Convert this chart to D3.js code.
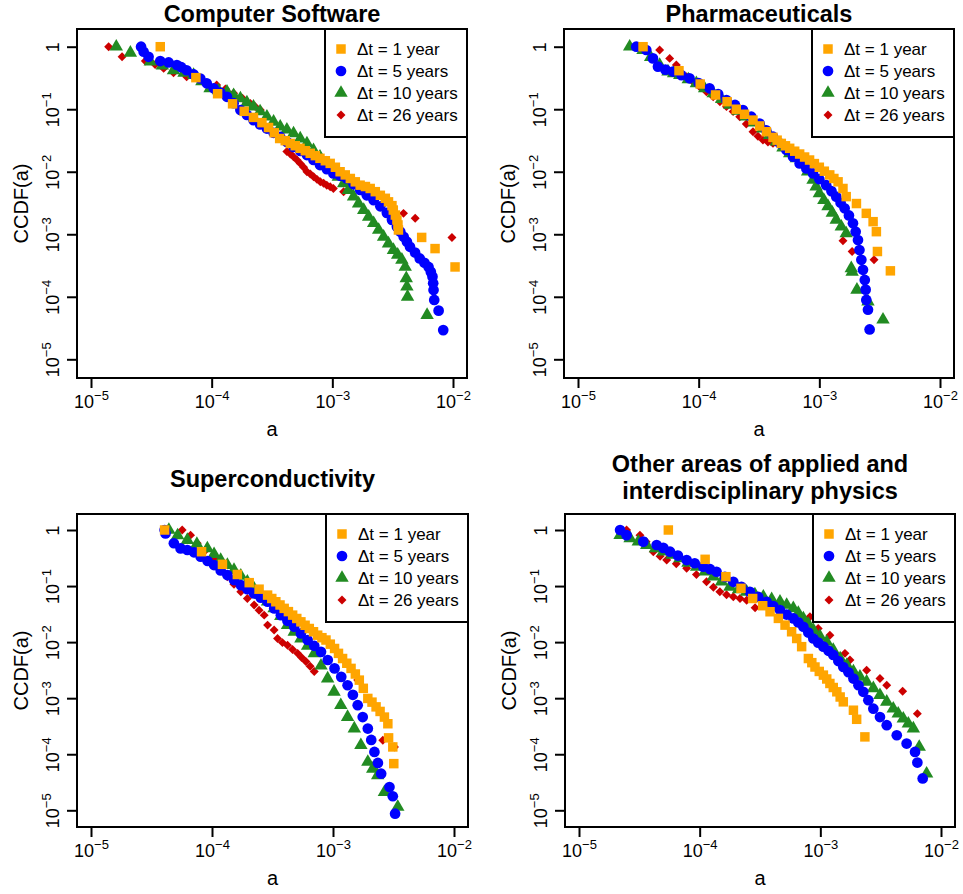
<!DOCTYPE html>
<html>
<head>
<meta charset="utf-8">
<script src="https://cdn.jsdelivr.net/npm/d3@7"></script>
<style>
  body { margin: 0; background: #fff; }
  svg { font-family: "Liberation Sans", Arial, Helvetica, sans-serif; }
</style>
</head>
<body>
<svg id="chart" width="963" height="894"></svg>
<script>
// Values: [a, CCDF(a)] pairs.
var seriesLabels = ["\u0394t = 1 year", "\u0394t = 5 years", "\u0394t = 10 years", "\u0394t = 26 years"];
var xTicks = [1e-5, 1e-4, 1e-3, 1e-2];
var yTicks = [1, 1e-1, 1e-2, 1e-3, 1e-4, 1e-5];

// Computer Software
var software1 = [[3.75e-5,1],[7.4e-5,0.32],[1.12e-4,0.177],[1.49e-4,0.122],[1.86e-4,0.0925],[2.22e-4,0.074],[2.61e-4,0.061],[2.96e-4,0.051],[3.3e-4,0.042],[3.66e-4,0.034],[4.07e-4,0.0314],[4.48e-4,0.0284],[4.93e-4,0.0261],[5.4e-4,0.0237],[5.97e-4,0.0217],[6.56e-4,0.0197],[7.23e-4,0.0181],[7.9e-4,0.0164],[8.75e-4,0.015],[9.6e-4,0.0136],[1.06e-3,0.0118],[1.16e-3,0.01],[1.28e-3,0.0089],[1.41e-3,0.0078],[1.55e-3,0.0069],[1.7e-3,0.0061],[1.88e-3,0.0058],[2.06e-3,0.0054],[2.27e-3,0.0048],[2.5e-3,0.0042],[2.75e-3,0.00376],[2.92e-3,0.0033],[3.12e-3,0.00287],[3.2e-3,0.00244],[3.33e-3,0.00203],[3.43e-3,0.00169],[3.5e-3,0.00141],[3.53e-3,0.00117],[5.5e-3,8.9e-4],[7.1e-3,5.9e-4],[1.04e-2,3.0e-4]];
var software5 = [[2.6e-5,1.0],[2.73e-5,0.83],[3.0e-5,0.69],[3.75e-5,0.59],[4.4e-5,0.56],[5.15e-5,0.51],[5.6e-5,0.47],[6.2e-5,0.42],[7.1e-5,0.36],[8.05e-5,0.31],[9.1e-5,0.26],[1.04e-4,0.216],[1.18e-4,0.185],[1.34e-4,0.158],[1.52e-4,0.125],[1.73e-4,0.097],[1.96e-4,0.081],[2.22e-4,0.067],[2.52e-4,0.057],[2.87e-4,0.049],[3.26e-4,0.042],[3.7e-4,0.036],[4.2e-4,0.030],[4.77e-4,0.025],[5.42e-4,0.0215],[6.16e-4,0.0185],[6.98e-4,0.0154],[7.9e-4,0.0128],[9.0e-4,0.011],[1.02e-3,0.0094],[1.16e-3,0.0086],[1.32e-3,0.0078],[1.5e-3,0.0063],[1.7e-3,0.0051],[1.93e-3,0.0042],[2.2e-3,0.0035],[2.5e-3,0.0028],[2.83e-3,0.0022],[3.12e-3,0.0017],[3.43e-3,0.00132],[3.66e-3,1.1e-3],[3.9e-3,9.1e-4],[4.15e-3,7.6e-4],[4.4e-3,6.3e-4],[4.85e-3,5.1e-4],[5.3e-3,4.1e-4],[5.8e-3,3.5e-4],[6.27e-3,3.0e-4],[6.55e-3,2.5e-4],[6.76e-3,2.1e-4],[6.85e-3,1.65e-4],[6.9e-3,1.28e-4],[6.99e-3,8.9e-5],[7.6e-3,6.0e-5],[8.3e-3,2.93e-5]];
var software10 = [[1.62e-5,1.0],[2.12e-5,0.8],[3.1e-5,0.575],[3.9e-5,0.5],[4.83e-5,0.42],[5.9e-5,0.38],[7.08e-5,0.352],[8.3e-5,0.28],[9.7e-5,0.216],[1.14e-4,0.2],[1.34e-4,0.19],[1.52e-4,0.168],[1.73e-4,0.149],[1.96e-4,0.128],[2.22e-4,0.11],[2.52e-4,0.092],[2.87e-4,0.076],[3.26e-4,0.063],[3.7e-4,0.0525],[4.2e-4,0.047],[4.77e-4,0.041],[5.42e-4,0.034],[6.16e-4,0.0284],[6.98e-4,0.022],[7.9e-4,0.0174],[9.0e-4,0.0136],[1.02e-3,0.0106],[1.12e-3,0.0083],[1.24e-3,0.0065],[1.36e-3,0.0051],[1.5e-3,0.004],[1.65e-3,0.0031],[1.82e-3,0.00244],[2.0e-3,0.0019],[2.2e-3,0.0015],[2.42e-3,0.00117],[2.66e-3,9.1e-4],[2.92e-3,7.1e-4],[3.21e-3,5.6e-4],[3.48e-3,4.7e-4],[3.77e-3,3.9e-4],[4.02e-3,3.0e-4],[4.1e-3,1.97e-4],[4.15e-3,1.45e-4],[4.2e-3,1.0e-4],[6.1e-3,5.1e-5]];
var software26 = [[1.4e-5,1.0],[1.81e-5,0.69],[2.82e-5,0.59],[3.4e-5,0.52],[4.0e-5,0.45],[4.83e-5,0.384],[6.2e-5,0.33],[8.05e-5,0.293],[1.1e-4,0.244],[1.3e-4,0.21],[1.52e-4,0.18],[1.8e-4,0.15],[2.09e-4,0.124],[2.3e-4,0.11],[2.53e-4,0.097],[4.2e-4,0.021],[4.49e-4,0.0192],[4.77e-4,0.0174],[5.1e-4,0.0154],[5.42e-4,0.0136],[5.78e-4,0.0118],[6.16e-4,0.01],[6.57e-4,0.0092],[7.0e-4,0.0083],[7.46e-4,0.00755],[7.95e-4,0.0069],[8.47e-4,0.00653],[9.0e-4,0.0061],[9.6e-4,0.00577],[1.02e-3,0.0054],[1.24e-3,0.0048],[3.89e-3,0.00216],[4.86e-3,0.0018],[9.8e-3,8.9e-4]];

// Pharmaceuticals
var pharma1 = [[3.46e-5,1],[6.87e-5,0.413],[1.03e-4,0.253],[1.38e-4,0.169],[1.72e-4,0.132],[2.05e-4,0.1],[2.4e-4,0.083],[2.82e-4,0.067],[3.2e-4,0.054],[3.64e-4,0.0437],[4.13e-4,0.0355],[4.47e-4,0.032],[4.84e-4,0.0284],[5.24e-4,0.026],[5.68e-4,0.0237],[6.25e-4,0.0213],[6.87e-4,0.0192],[7.55e-4,0.0172],[8.3e-4,0.0154],[9.1e-4,0.0135],[1.0e-3,0.0118],[1.1e-3,0.0102],[1.22e-3,0.0089],[1.32e-3,0.0078],[1.43e-3,0.0069],[1.57e-3,0.0054],[1.67e-3,0.004],[2.03e-3,0.0031],[2.45e-3,0.00216],[2.79e-3,0.00159],[2.97e-3,0.0011],[3.03e-3,5.3e-4],[3.88e-3,2.6e-4]];
var pharma5 = [[3.04e-5,1],[3.68e-5,0.885],[4.18e-5,0.65],[4.6e-5,0.48],[5.3e-5,0.43],[6.12e-5,0.4],[7.2e-5,0.35],[8.4e-5,0.312],[1.0e-4,0.262],[1.23e-4,0.216],[1.45e-4,0.175],[1.7e-4,0.14],[2.0e-4,0.117],[2.33e-4,0.097],[2.73e-4,0.076],[3.2e-4,0.059],[3.63e-4,0.046],[4.13e-4,0.0364],[4.7e-4,0.0285],[5.33e-4,0.0223],[6.05e-4,0.0174],[6.87e-4,0.0136],[7.8e-4,0.0113],[8.87e-4,0.0094],[1.0e-3,0.0076],[1.14e-3,0.0061],[1.26e-3,0.0049],[1.38e-3,0.004],[1.5e-3,0.0032],[1.62e-3,0.0026],[1.76e-3,0.002],[1.9e-3,0.0015],[2.0e-3,1.1e-3],[2.09e-3,8.1e-4],[2.15e-3,5.6e-4],[2.23e-3,3.9e-4],[2.3e-3,2.7e-4],[2.38e-3,1.86e-4],[2.42e-3,1.3e-4],[2.45e-3,8.9e-5],[2.53e-3,6.2e-5],[2.61e-3,3.0e-5]];
var pharma10 = [[2.68e-5,1],[3.46e-5,0.885],[4.0e-5,0.68],[4.75e-5,0.51],[5.57e-5,0.4],[6.2e-5,0.375],[6.97e-5,0.352],[8.2e-5,0.3],[9.57e-5,0.26],[1.12e-4,0.215],[1.32e-4,0.18],[1.55e-4,0.145],[1.81e-4,0.117],[2.12e-4,0.094],[2.48e-4,0.076],[2.9e-4,0.061],[3.41e-4,0.049],[3.87e-4,0.0385],[4.4e-4,0.0303],[5.0e-4,0.0244],[5.68e-4,0.0197],[6.45e-4,0.0164],[7.33e-4,0.0136],[8.0e-4,0.01],[8.87e-4,0.0074],[9.4e-4,0.0058],[1.0e-3,0.0045],[1.09e-3,0.0035],[1.18e-3,0.0028],[1.28e-3,0.0022],[1.38e-3,0.0017],[1.52e-3,0.00132],[1.67e-3,0.00103],[1.84e-3,2.85e-4],[1.87e-3,2.5e-4],[2.05e-3,1.29e-4],[2.53e-3,8.4e-5],[3.37e-3,4.3e-5]];
var pharma26 = [[4.75e-5,0.885],[5.75e-5,0.65],[6.53e-5,0.51],[7.9e-5,0.33],[9.0e-5,0.275],[1.02e-4,0.229],[1.16e-4,0.19],[1.32e-4,0.158],[1.5e-4,0.132],[1.7e-4,0.11],[1.93e-4,0.092],[2.19e-4,0.076],[2.48e-4,0.058],[2.82e-4,0.0437],[3.1e-4,0.037],[3.41e-4,0.0322],[3.75e-4,0.03],[4.13e-4,0.0284],[1.57e-3,7.9e-4],[1.87e-3,5.3e-4],[2.84e-3,3.9e-4]];

// Superconductivity
var supercond1 = [[4.06e-5,1],[8.2e-5,0.41],[1.22e-4,0.244],[1.62e-4,0.161],[2.03e-4,0.115],[2.45e-4,0.088],[2.88e-4,0.069],[3.12e-4,0.06],[3.37e-4,0.0525],[3.65e-4,0.046],[3.95e-4,0.04],[4.28e-4,0.035],[4.64e-4,0.0303],[5.02e-4,0.0264],[5.43e-4,0.023],[5.88e-4,0.02],[6.37e-4,0.0175],[6.9e-4,0.0153],[7.47e-4,0.0133],[8.1e-4,0.012],[8.75e-4,0.0109],[9.5e-4,0.0092],[1.03e-3,0.0077],[1.11e-3,0.0063],[1.2e-3,0.0051],[1.3e-3,0.0042],[1.41e-3,0.0034],[1.53e-3,0.0027],[1.65e-3,0.0021],[1.78e-3,0.0015],[1.94e-3,9.9e-4],[2.1e-3,8.5e-4],[2.27e-3,7.0e-4],[2.45e-3,5.8e-4],[2.66e-3,4.6e-4],[2.84e-3,3.5e-4],[2.88e-3,1.96e-4],[3.12e-3,1.35e-4],[3.18e-3,6.8e-5]];
var supercond5 = [[4.06e-5,1],[4.13e-5,0.87],[4.84e-5,0.58],[5.5e-5,0.47],[6.25e-5,0.44],[7.1e-5,0.4],[8.06e-5,0.334],[9.2e-5,0.28],[1.04e-4,0.237],[1.18e-4,0.19],[1.34e-4,0.157],[1.52e-4,0.128],[1.73e-4,0.104],[1.96e-4,0.088],[2.23e-4,0.074],[2.53e-4,0.062],[2.88e-4,0.0525],[3.27e-4,0.04],[3.71e-4,0.0303],[4.2e-4,0.024],[4.78e-4,0.0188],[5.43e-4,0.0143],[6.17e-4,0.0109],[7.0e-4,0.0086],[7.96e-4,0.0067],[9.05e-4,0.0048],[1.03e-3,0.0034],[1.17e-3,0.0024],[1.32e-3,0.0017],[1.46e-3,0.00115],[1.6e-3,7.5e-4],[1.76e-3,4.6e-4],[1.94e-3,2.87e-4],[2.07e-3,1.8e-4],[2.2e-3,1.1e-4],[2.35e-3,7.0e-5],[2.5e-3,4.5e-5],[2.93e-3,2.6e-5],[3.12e-3,1.78e-5],[3.26e-3,8.7e-6]];
var supercond10 = [[4.4e-5,1],[5.2e-5,0.8],[6.25e-5,0.66],[7.5e-5,0.56],[9.15e-5,0.47],[1.04e-4,0.37],[1.18e-4,0.291],[1.34e-4,0.237],[1.52e-4,0.193],[1.73e-4,0.152],[1.96e-4,0.119],[2.23e-4,0.09],[2.53e-4,0.069],[2.88e-4,0.053],[3.26e-4,0.04],[3.7e-4,0.029],[4.21e-4,0.0201],[4.78e-4,0.0153],[5.43e-4,0.0116],[6.17e-4,0.0086],[7.0e-4,0.0063],[7.96e-4,0.0038],[9.03e-4,0.00224],[1.02e-3,0.0013],[1.16e-3,7.5e-4],[1.32e-3,4.6e-4],[1.5e-3,2.87e-4],[1.7e-3,1.45e-4],[1.94e-3,7.3e-5],[2.13e-3,5.5e-5],[2.34e-3,4.2e-5],[2.66e-3,2.1e-5],[3.43e-3,1.15e-5]];
var supercond26 = [[5.67e-5,1],[6.65e-5,0.81],[7.55e-5,0.58],[8.8e-5,0.43],[1.04e-4,0.312],[1.18e-4,0.21],[1.34e-4,0.147],[1.52e-4,0.108],[1.73e-4,0.079],[1.96e-4,0.06],[2.23e-4,0.0458],[2.45e-4,0.037],[2.7e-4,0.0303],[2.88e-4,0.0201],[3.26e-4,0.0164],[3.48e-4,0.0116],[3.82e-4,0.0098],[4.21e-4,0.0088],[4.63e-4,0.0074],[5.1e-4,0.0063],[5.5e-4,0.0053],[5.97e-4,0.0045],[6.47e-4,0.0037],[7.0e-4,0.003],[1.6e-3,0.0021],[2.58e-3,1.78e-4],[3.22e-3,1.35e-4]];

// Other areas of applied and interdisciplinary physics
var applied1 = [[5.5e-5,1],[1.11e-4,0.3],[1.65e-4,0.147],[2.2e-4,0.091],[2.75e-4,0.06],[3.33e-4,0.0446],[3.83e-4,0.0348],[4.49e-4,0.0265],[5.1e-4,0.0201],[5.78e-4,0.0153],[6.37e-4,0.0116],[7.0e-4,0.0083],[7.96e-4,0.0051],[8.5e-4,0.0043],[9.03e-4,0.0036],[9.8e-4,0.003],[1.06e-3,0.00258],[1.13e-3,0.0022],[1.2e-3,0.00183],[1.28e-3,0.00155],[1.37e-3,0.0013],[1.46e-3,0.00105],[1.55e-3,8.6e-4],[1.88e-3,6.1e-4],[2.0e-3,4.2e-4],[2.34e-3,2.04e-4]];
var applied5 = [[2.19e-5,1],[2.48e-5,0.81],[3.41e-5,0.62],[4.4e-5,0.54],[5.0e-5,0.48],[5.68e-5,0.41],[6.6e-5,0.35],[7.8e-5,0.291],[9.1e-5,0.255],[1.07e-4,0.221],[1.22e-4,0.2],[1.38e-4,0.18],[1.62e-4,0.146],[1.9e-4,0.119],[2.22e-4,0.097],[2.61e-4,0.079],[3.06e-4,0.064],[3.59e-4,0.0525],[4.08e-4,0.044],[4.63e-4,0.0373],[5.26e-4,0.031],[5.97e-4,0.0265],[6.57e-4,0.0225],[7.23e-4,0.0188],[7.95e-4,0.0148],[8.75e-4,0.0116],[9.6e-4,0.0098],[1.06e-3,0.0083],[1.17e-3,0.007],[1.28e-3,0.0059],[1.41e-3,0.0046],[1.55e-3,0.0036],[1.71e-3,0.0029],[1.88e-3,0.00224],[2.07e-3,0.0017],[2.27e-3,0.0013],[2.5e-3,9.2e-4],[2.75e-3,6.5e-4],[3.12e-3,4.6e-4],[3.55e-3,3.3e-4],[4.3e-3,2.18e-4],[5.19e-3,1.55e-4],[6.09e-3,1.1e-4],[6.37e-3,7.1e-5],[7.05e-3,3.7e-5]];
var applied10 = [[2.19e-5,0.81],[2.65e-5,0.71],[3.1e-5,0.62],[3.64e-5,0.54],[4.3e-5,0.47],[5.0e-5,0.41],[5.9e-5,0.36],[6.87e-5,0.312],[8.0e-5,0.26],[9.44e-5,0.221],[1.11e-4,0.18],[1.3e-4,0.147],[1.52e-4,0.12],[1.78e-4,0.097],[2.1e-4,0.087],[2.45e-4,0.079],[2.87e-4,0.071],[3.37e-4,0.0645],[3.95e-4,0.058],[4.63e-4,0.0525],[5.26e-4,0.046],[5.97e-4,0.04],[6.57e-4,0.033],[7.23e-4,0.0265],[7.95e-4,0.021],[8.75e-4,0.0164],[9.9e-4,0.0128],[1.13e-3,0.0101],[1.28e-3,0.0072],[1.46e-3,0.0051],[1.66e-3,0.0039],[1.88e-3,0.003],[2.13e-3,0.0024],[2.42e-3,0.00196],[2.75e-3,0.0015],[3.12e-3,0.00113],[3.55e-3,8.6e-4],[4.02e-3,6.5e-4],[4.42e-3,5.3e-4],[4.87e-3,4.3e-4],[5.36e-3,3.5e-4],[5.9e-3,2.87e-4],[6.6e-3,1.35e-4],[7.6e-3,4.5e-5]];
var applied26 = [[2.48e-5,1],[3.2e-5,0.81],[3.6e-5,0.62],[4.13e-5,0.41],[4.7e-5,0.34],[5.33e-5,0.291],[6.4e-5,0.25],[7.8e-5,0.207],[9.4e-5,0.16],[1.14e-4,0.119],[1.3e-4,0.095],[1.47e-4,0.079],[1.67e-4,0.07],[1.9e-4,0.0645],[2.16e-4,0.06],[2.45e-4,0.056],[2.88e-4,0.041],[8.2e-4,0.0283],[9.6e-4,0.0175],[1.2e-3,0.0133],[1.6e-3,0.0063],[1.76e-3,0.0048],[2.42e-3,0.00316],[3.12e-3,0.00224],[3.55e-3,0.0017],[4.81e-3,0.00133],[6.37e-3,5.3e-4]];

// Marker styles, same order as seriesLabels.
var styles = [
  {color: "#FFA500", symbol: d3.symbolSquare, size: 90, rotate: 0},
  {color: "#0000FF", symbol: d3.symbolCircle, size: 90, rotate: 0},
  {color: "#228B22", symbol: d3.symbolTriangle, size: 78, rotate: 0},
  {color: "#CC0000", symbol: d3.symbolSquare, size: 40, rotate: 45}
];

var panels = [
  {title: ["Computer Software"], titleY: [21.5], left: 77, top: 29, width: 390, height: 349, padT: 17.7, padB: 18.7,
   series: [software1, software5, software10, software26]},
  {title: ["Pharmaceuticals"], titleY: [21.5], left: 564, top: 29, width: 390, height: 349, padT: 17.7, padB: 18.7,
   series: [pharma1, pharma5, pharma10, pharma26]},
  {title: ["Superconductivity"], titleY: [487], left: 77, top: 514, width: 391, height: 313, padT: 16, padB: 16.7,
   series: [supercond1, supercond5, supercond10, supercond26]},
  {title: ["Other areas of applied and", "interdisciplinary physics"], titleY: [471.5, 499], left: 565, top: 514, width: 390, height: 313, padT: 16, padB: 16.7,
   series: [applied1, applied5, applied10, applied26]}
];

var svg = d3.select("#chart");

function expLabel(sel, v) {
  var e = Math.round(Math.log10(v));
  if (e === 0) { sel.text("1"); return; }
  sel.append("tspan").text("10");
  sel.append("tspan").attr("dy", -8).attr("font-size", 13).text("\u2212" + (-e));
}

panels.forEach(function(p) {
  var x = d3.scaleLog().domain([1e-5, 1e-2]).range([p.left + 14, p.left + p.width - 14]);
  var y = d3.scaleLog().domain([1e-5, 1]).range([p.top + p.height - p.padB, p.top + p.padT]);
  var g = svg.append("g");

  // points, the 26-year series first so the 1-year squares end up on top
  [3, 2, 1, 0].forEach(function(i) {
    var st = styles[i];
    g.append("g").selectAll("path")
      .data(p.series[i])
      .join("path")
      .attr("d", d3.symbol().type(st.symbol).size(st.size))
      .attr("transform", function(d) { return "translate(" + x(d[0]) + "," + y(d[1]) + ") rotate(" + st.rotate + ")"; })
      .attr("fill", st.color);
  });

  // x axis
  var xa = g.append("g")
    .attr("transform", "translate(0," + (p.top + p.height) + ")")
    .call(d3.axisBottom(x).tickValues(xTicks).tickSize(10).tickSizeOuter(0).tickFormat(function() { return ""; }));
  xa.select(".domain").remove();
  xa.selectAll(".tick line").attr("stroke", "#000").attr("stroke-width", 2);
  xa.selectAll(".tick text").remove();
  xa.selectAll(".tick").append("text")
    .attr("y", 30).attr("text-anchor", "middle").attr("font-size", 18).attr("fill", "#000")
    .each(function(d) { expLabel(d3.select(this), d); });

  // y axis
  var ya = g.append("g")
    .attr("transform", "translate(" + p.left + ",0)")
    .call(d3.axisLeft(y).tickValues(yTicks).tickSize(10).tickSizeOuter(0).tickFormat(function() { return ""; }));
  ya.select(".domain").remove();
  ya.selectAll(".tick line").attr("stroke", "#000").attr("stroke-width", 2);
  ya.selectAll(".tick text").remove();
  ya.selectAll(".tick").append("text")
    .attr("transform", "translate(-18,0) rotate(-90)")
    .attr("text-anchor", "middle").attr("font-size", 18).attr("fill", "#000")
    .each(function(d) { expLabel(d3.select(this), d); });

  // frame
  g.append("rect")
    .attr("x", p.left).attr("y", p.top).attr("width", p.width).attr("height", p.height)
    .attr("fill", "none").attr("stroke", "#000").attr("stroke-width", 2);

  // titles and axis labels
  p.title.forEach(function(t, k) {
    g.append("text").attr("x", p.left + p.width / 2).attr("y", p.titleY[k])
      .attr("text-anchor", "middle").attr("font-size", 23.5).attr("font-weight", "bold").text(t);
  });
  g.append("text").attr("x", p.left + p.width / 2).attr("y", p.top + p.height + 58)
    .attr("text-anchor", "middle").attr("font-size", 20).text("a");
  g.append("text")
    .attr("transform", "translate(" + (p.left - 49) + "," + (p.top + p.height / 2) + ") rotate(-90)")
    .attr("text-anchor", "middle").attr("font-size", 20).text("CCDF(a)");

  // legend
  var lw = 142, lh = 108, lx = p.left + p.width - lw, ly = p.top;
  var lg = g.append("g");
  lg.append("rect").attr("x", lx).attr("y", ly).attr("width", lw).attr("height", lh)
    .attr("fill", "#fff").attr("stroke", "#000").attr("stroke-width", 2);
  seriesLabels.forEach(function(lab, i) {
    var st = styles[i], cy = ly + 20 + i * 22;
    lg.append("path")
      .attr("d", d3.symbol().type(st.symbol).size(st.size))
      .attr("transform", "translate(" + (lx + 16) + "," + cy + ") rotate(" + st.rotate + ")")
      .attr("fill", st.color);
    lg.append("text").attr("x", lx + 32).attr("y", cy + 6)
      .attr("font-size", 17).text(lab);
  });
});
</script>
</body>
</html>
